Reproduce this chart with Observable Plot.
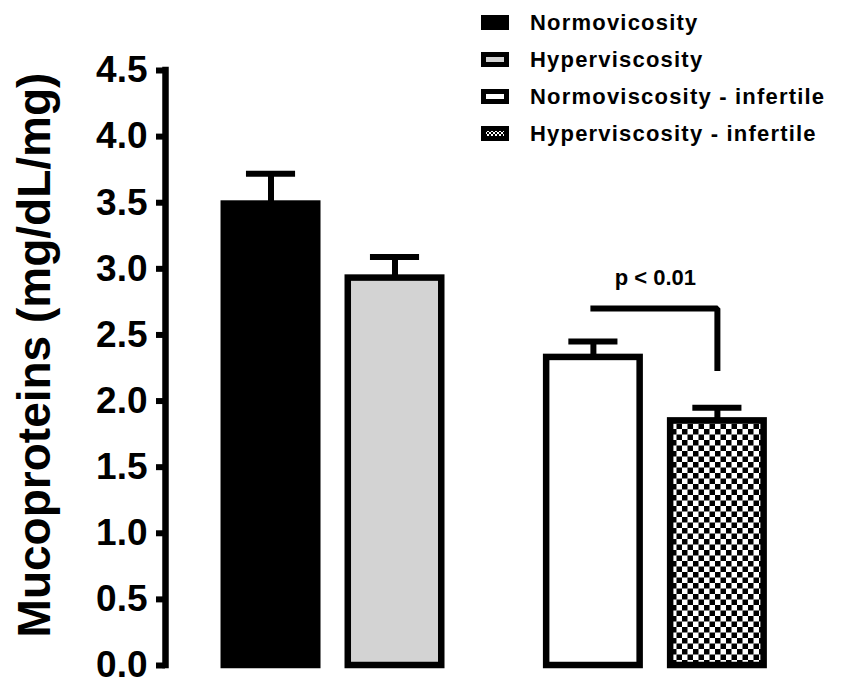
<!DOCTYPE html>
<html>
<head>
<meta charset="utf-8">
<script src="https://cdn.jsdelivr.net/npm/d3@7"></script>
<script src="https://cdn.jsdelivr.net/npm/@observablehq/plot@0.6"></script>
<style>
  html, body { margin: 0; padding: 0; background: #fff; }
  #wrap { position: relative; width: 842px; height: 681px; font-family: "Liberation Sans", Arial, Helvetica, sans-serif; }
  #legend { position: absolute; left: 481px; top: 4px; }
  .row { height: 37px; display: flex; align-items: center; }
  .row svg { margin-right: 21px; flex: none; }
  .row span { font-size: 22px; font-weight: bold; letter-spacing: 1.2px; color: #000; white-space: nowrap; }
</style>
</head>
<body>
<div id="wrap"><div id="legend"></div></div>
<script>
// ---- data ----
const categories = ["Normovicosity", "Hyperviscosity", "Normoviscosity - infertile", "Hyperviscosity - infertile"];
const groups = ["fertile", "fertile", "infertile", "infertile"];
const means = [3.49, 2.93, 2.33, 1.85];
const sems = [0.23, 0.16, 0.12, 0.10];
const fills = ["#000000", "#d3d3d3", "#ffffff", "url(#checker)"];
const yTicks = [0, 0.5, 1.0, 1.5, 2.0, 2.5, 3.0, 3.5, 4.0, 4.5];
const yTickLabels = ["0.0", "0.5", "1.0", "1.5", "2.0", "2.5", "3.0", "3.5", "4.0", "4.5"];
const yLabel = "Mucoproteins (mg/dL/mg)";
const pLabel = "p < 0.01";
const bracketPair = [2, 3];      // compared bars (indexes)
const bracketY = 2.70;           // height of the bracket
const bracketDrop = 2.25;        // end of the bracket's right leg
const pLabelY = 2.93;            // height of the p-value text

// ---- layout ----
const groupIndex = g => Array.from(new Set(groups)).indexOf(g);
const gap = 0.6;
const data = categories.map((c, i) => ({
  category: c, group: groups[i], mean: means[i], sem: sems[i], fill: fills[i],
  pos: i + groupIndex(groups[i]) * gap
}));
const half = 0.377, capHalf = 0.198;
const pA = data[bracketPair[0]].pos, pB = data[bracketPair[1]].pos;
const bracket = [
  {x: pA, y: bracketY}, {x: pB, y: bracketY}, {x: pB, y: bracketDrop}
];

const FONT = '"Liberation Sans", Arial, Helvetica, sans-serif';

const chart = Plot.plot({
  width: 842,
  height: 681,
  marginLeft: 165,
  marginRight: 0,
  marginTop: 70,
  marginBottom: 16,
  style: {fontFamily: FONT, background: "transparent", overflow: "visible"},
  x: {type: "linear", domain: [-0.851, 4.609], axis: null},
  y: {domain: [0, 4.5], axis: null},
  color: {type: "identity"},
  marks: [
    // error bars (drawn behind bars)
    Plot.ruleX(data, {x: "pos", y1: "mean", y2: d => d.mean + d.sem, stroke: "#000", strokeWidth: 6}),
    Plot.ruleY(data, {y: d => d.mean + d.sem, x1: d => d.pos - capHalf, x2: d => d.pos + capHalf, stroke: "#000", strokeWidth: 6}),
    // bars
    Plot.rectY(data, {x1: d => d.pos - half, x2: d => d.pos + half, y1: 0, y2: "mean", fill: "fill", stroke: "#000", strokeWidth: 6.5}),
    // significance bracket
    Plot.line(bracket, {x: "x", y: "y", stroke: "#000", strokeWidth: 6, strokeLinejoin: "miter", strokeLinecap: "square"}),
    Plot.text([pLabel], {x: (pA + pB) / 2, y: pLabelY, text: d => d, fontSize: 22, fontWeight: "bold", fill: "#000", letterSpacing: "1.2px"}),
    // y axis
    Plot.ruleX([-0.851], {y1: 0, y2: 4.5, stroke: "#000", strokeWidth: 6.5, strokeLinecap: "square"}),
    Plot.axisY(yTicks, {
      tickSize: 9, tickPadding: 9, strokeWidth: 6,
      tickFormat: (d) => yTickLabels[yTicks.indexOf(d)],
      fontSize: 37, fontWeight: "bold", fill: "#000", label: null
    }),
    Plot.text([yLabel], {frameAnchor: "left", textAnchor: "middle", lineAnchor: "middle", text: d => d, rotate: -90, dx: -130, dy: -13, fontSize: 46, fontWeight: "bold", fill: "#000"})
  ]
});

// checker pattern definition
const ns = "http://www.w3.org/2000/svg";
const defs = document.createElementNS(ns, "defs");
defs.innerHTML = `<pattern id="checker" patternUnits="userSpaceOnUse" width="11" height="11">
  <rect width="11" height="11" fill="#fff"/>
  <rect x="0" y="0" width="5.5" height="5.5" fill="#000"/>
  <rect x="5.5" y="5.5" width="5.5" height="5.5" fill="#000"/>
</pattern>
<pattern id="checkerSmall" patternUnits="userSpaceOnUse" width="4" height="4">
  <rect width="4" height="4" fill="#fff"/>
  <rect x="0" y="0" width="2" height="2" fill="#000"/>
  <rect x="2" y="2" width="2" height="2" fill="#000"/>
</pattern>`;
chart.insertBefore(defs, chart.firstChild);

const wrap = document.getElementById("wrap");
wrap.insertBefore(chart, wrap.firstChild);

// legend
const legend = document.getElementById("legend");
const legendFills = ["#000000", "#d3d3d3", "#ffffff", "url(#checkerSmall)"];
categories.forEach((c, i) => {
  const row = document.createElement("div");
  row.className = "row";
  row.innerHTML = `<svg width="28" height="15"><rect x="2.5" y="2.5" width="23" height="10" fill="${legendFills[i]}" stroke="#000" stroke-width="5"/></svg><span>${c}</span>`;
  legend.appendChild(row);
});
</script>
</body>
</html>
